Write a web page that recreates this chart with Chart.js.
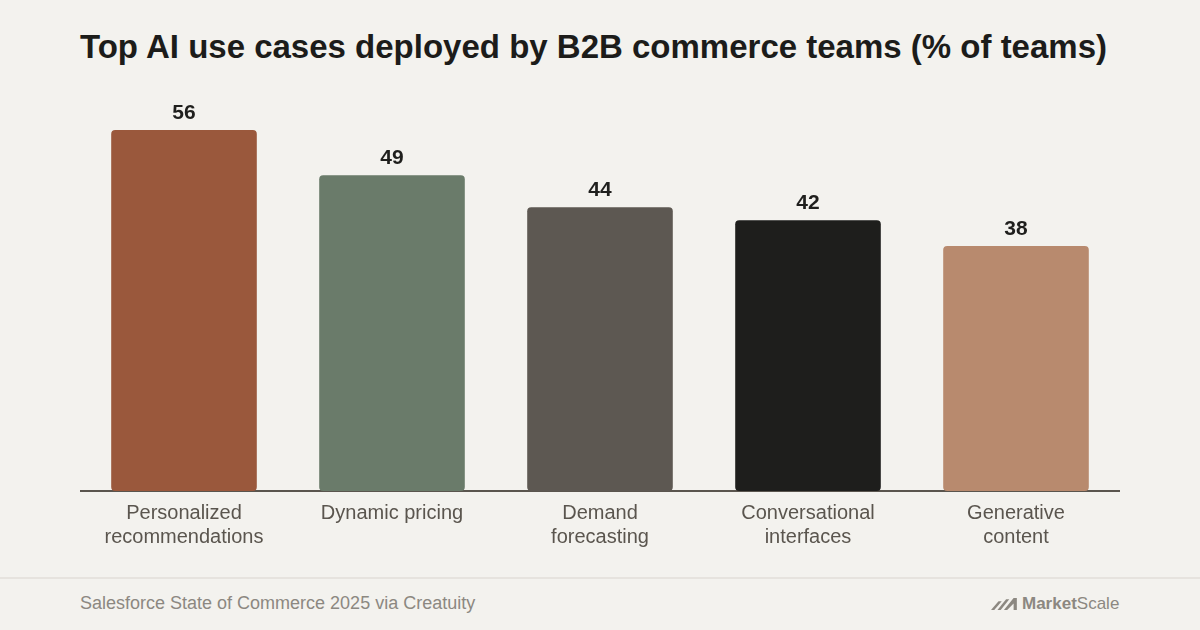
<!DOCTYPE html>
<html>
<head>
<meta charset="utf-8">
<script src="https://cdn.jsdelivr.net/npm/chart.js@4.4.1/dist/chart.umd.min.js"></script>
<style>
  html, body { margin: 0; padding: 0; }
  body {
    width: 1200px; height: 630px; overflow: hidden; position: relative;
    background: #f3f2ee; font-family: "Liberation Sans", Arial, sans-serif;
  }
  #title {
    position: absolute; left: 80px; top: 28px; margin: 0;
    font-size: 33px; font-weight: 700; color: #1c1c1a; letter-spacing: 0;
    white-space: nowrap;
  }
  #wrap { position: absolute; left: 80px; top: 101px; width: 1040px; height: 458px; }
  #sep { position: absolute; left: 0; top: 577px; width: 1200px; height: 2px; background: #e6e3de; }
  #source { position: absolute; left: 80px; top: 593px; font-size: 18px; color: #8c8881; }
  #logo { position: absolute; left: 991px; top: 594px; display: flex; align-items: center; color: #8c8881; font-size: 17px; }
  #logo svg { margin-right: 3px; }
</style>
</head>
<body>
<h1 id="title">Top AI use cases deployed by B2B commerce teams (% of teams)</h1>
<div id="wrap"><canvas id="chart"></canvas></div>
<div id="sep"></div>
<div id="source">Salesforce State of Commerce 2025 via Creatuity</div>
<div id="logo">
  <svg width="28" height="12" viewBox="0 0 26 11">
    <polygon points="0,11 7,3 10,3 3,11" fill="#8c8881"/>
    <polygon points="6,11 14,1 17,1 9,11" fill="#8c8881"/>
    <polygon points="12,11 21,0 24,0 24,11 21,11 21,5 15,11" fill="#8c8881"/>
  </svg>
  <span style="font-weight:700">Market</span><span>Scale</span>
</div>
<script>
// 数据
const categories = [
  ["Personalized", "recommendations"],
  "Dynamic pricing",
  ["Demand", "forecasting"],
  ["Conversational", "interfaces"],
  ["Generative", "content"],
];
const values = [56, 49, 44, 42, 38];
const barColors = ["#9a583c", "#6a7b6a", "#5d5852", "#1e1e1c", "#b88a6e"];

// 柱顶数值标签
const valueLabels = {
  id: "valueLabels",
  afterDatasetsDraw(chart) {
    const ctx = chart.ctx;
    const meta = chart.getDatasetMeta(0);
    ctx.save();
    ctx.font = "700 21px 'Liberation Sans', Arial, sans-serif";
    ctx.fillStyle = "#1f1f1d";
    ctx.textAlign = "center";
    ctx.textBaseline = "alphabetic";
    meta.data.forEach((bar, i) => {
      ctx.fillText(values[i], bar.x, bar.y - 11);
    });
    ctx.restore();
  },
};

new Chart(document.getElementById("chart"), {
  type: "bar",
  data: {
    labels: categories,
    datasets: [
      {
        data: values,
        backgroundColor: barColors,
        borderRadius: 4,
        borderSkipped: false,
        categoryPercentage: 1,
        barPercentage: 0.7,
      },
    ],
  },
  options: {
    responsive: true,
    maintainAspectRatio: false,
    animation: false,
    layout: { padding: 0 },
    plugins: {
      legend: { display: false },
      tooltip: { enabled: false },
    },
    scales: {
      x: {
        grid: { display: false, drawTicks: false },
        border: { display: true, color: "#5a554e", width: 2 },
        ticks: {
          color: "#5a554e",
          padding: 10,
          maxRotation: 0,
          font: { family: "'Liberation Sans', Arial, sans-serif", size: 20, lineHeight: 1.2 },
        },
      },
      y: {
        display: false,
        min: 0,
        max: 60.5,
      },
    },
  },
  plugins: [valueLabels],
});
</script>
</body>
</html>
